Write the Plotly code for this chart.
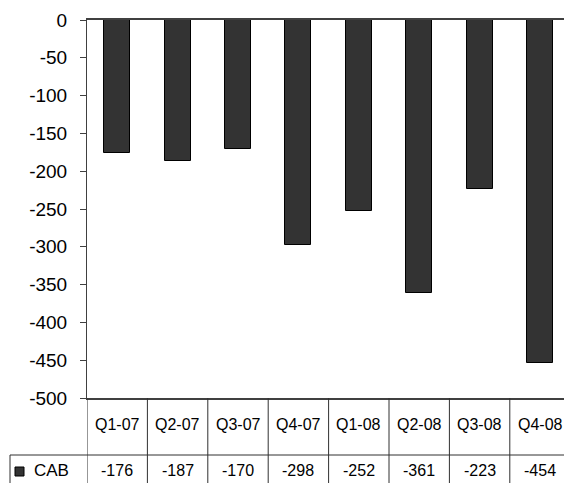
import plotly.graph_objects as go

categories = ["Q1-07", "Q2-07", "Q3-07", "Q4-07", "Q1-08", "Q2-08", "Q3-08", "Q4-08"]
cab_values = [-176, -187, -170, -298, -252, -361, -223, -454]
series_name = "CAB"
y_ticks = [0, -50, -100, -150, -200, -250, -300, -350, -400, -450, -500]

W, H = 564, 483
ML, MR, MT, MB = 87, 0, 20, 85
plot_w = W - ML - MR
plot_h = H - MT - MB
col_px = 60.4
x_hi = -0.5 + plot_w / col_px

def py(px):
    # pixel y (from top) -> paper y
    return -(px - (H - MB)) / plot_h

def pxx(px):
    return (px - ML) / plot_w

FONT = "Liberation Sans, Arial, sans-serif"
LINE = "#303030"

fig = go.Figure()
fig.add_bar(
    x=list(range(len(categories))), y=cab_values, width=0.43,
    marker=dict(color="#333333", line=dict(color="#000000", width=1)),
    showlegend=False, hoverinfo="skip",
)

shapes = []
# vertical table column lines
for i in range(len(categories) + 1):
    shapes.append(dict(type="line", xref="x", yref="paper", x0=i - 0.5, x1=i - 0.5,
                       y0=py(H + 5), y1=0, line=dict(color=LINE, width=1)))
# horizontal line between header and data row
shapes.append(dict(type="line", xref="paper", yref="paper", x0=pxx(10), x1=1.02,
                   y0=py(455), y1=py(455), line=dict(color=LINE, width=1)))
# left border of the legend cell
shapes.append(dict(type="line", xref="paper", yref="paper", x0=pxx(10), x1=pxx(10),
                   y0=py(455), y1=py(H + 5), line=dict(color=LINE, width=1)))
# legend key square
shapes.append(dict(type="rect", xref="paper", yref="paper", x0=pxx(15), x1=pxx(24),
                   y0=py(476), y1=py(467), fillcolor="#333333",
                   line=dict(color="#000000", width=1)))

annotations = []
for i, c in enumerate(categories):
    annotations.append(dict(x=i, y=py(424), xref="x", yref="paper", text=c, showarrow=False,
                            xanchor="center", yanchor="middle",
                            font=dict(family=FONT, size=16, color="#000000")))
    annotations.append(dict(x=i, y=py(470), xref="x", yref="paper", text=str(cab_values[i]),
                            showarrow=False, xanchor="center", yanchor="middle",
                            font=dict(family=FONT, size=16, color="#000000")))
annotations.append(dict(x=pxx(32), y=py(471), xref="paper", yref="paper", text=series_name,
                        showarrow=False, xanchor="left", yanchor="middle",
                        font=dict(family=FONT, size=17, color="#000000")))

fig.update_layout(
    width=W, height=H,
    margin=dict(l=ML, r=MR, t=MT, b=MB, pad=0),
    paper_bgcolor="white", plot_bgcolor="white",
    shapes=shapes, annotations=annotations,
    xaxis=dict(range=[-0.5, x_hi], showticklabels=False, ticks="", showgrid=False,
               zeroline=False, showline=True, mirror=True, linecolor="#404040", linewidth=1.5),
    yaxis=dict(range=[-500, 0], tickvals=y_ticks, ticktext=[str(v) for v in y_ticks],
               ticks="outside", ticklen=6, tickcolor="#404040", tickwidth=1,
               showgrid=False, zeroline=False, showline=True, linecolor="#404040", linewidth=1,
               ticklabelstandoff=9,
               tickfont=dict(family=FONT, size=19, color="#000000")),
    bargap=0,
)

fig.write_html("out.html")
